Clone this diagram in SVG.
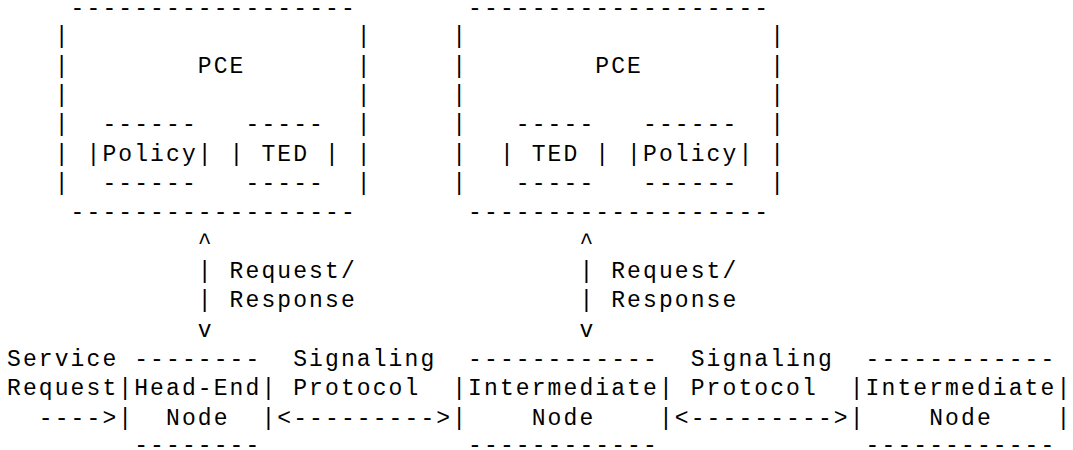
<svg xmlns="http://www.w3.org/2000/svg" width="1073" height="450" viewBox="0 0 1073 450">
<style>
text{font-family:"Courier New","Liberation Mono",monospace;font-size:23px;letter-spacing:2.1px;fill:#000;white-space:pre}
</style>
<rect x="0" y="0" width="1073" height="450" fill="#fff"/>
<g id="pce-left">
<text x="70.6" y="15">------------------</text>
<text x="54.7" y="43.33">|</text><text x="356.8" y="43.33">|</text>
<text x="54.7" y="72.67">|</text><text x="197.8" y="72.67">PCE</text><text x="356.8" y="72.67">|</text>
<text x="54.7" y="102">|</text><text x="356.8" y="102">|</text>
<text x="54.7" y="131.33">|</text><text x="356.8" y="131.33">|</text>
<text x="54.7" y="160.67">|</text><text x="356.8" y="160.67">|</text>
<text x="54.7" y="190">|</text><text x="356.8" y="190">|</text>
<text x="70.6" y="219.33">------------------</text>
<g id="policy-left">
<text x="102.4" y="131.33">------</text>
<text x="86.5" y="160.67">|Policy|</text>
<text x="102.4" y="190">------</text>
</g>
<g id="ted-left">
<text x="245.5" y="131.33">-----</text>
<text x="229.6" y="160.67">| TED |</text>
<text x="245.5" y="190">-----</text>
</g>
</g>
<g id="pce-right">
<text x="468.1" y="15">-------------------</text>
<text x="452.2" y="43.33">|</text><text x="770.2" y="43.33">|</text>
<text x="452.2" y="72.67">|</text><text x="595.3" y="72.67">PCE</text><text x="770.2" y="72.67">|</text>
<text x="452.2" y="102">|</text><text x="770.2" y="102">|</text>
<text x="452.2" y="131.33">|</text><text x="770.2" y="131.33">|</text>
<text x="452.2" y="160.67">|</text><text x="770.2" y="160.67">|</text>
<text x="452.2" y="190">|</text><text x="770.2" y="190">|</text>
<text x="468.1" y="219.33">-------------------</text>
<g id="ted-right">
<text x="515.8" y="131.33">-----</text>
<text x="499.9" y="160.67">| TED |</text>
<text x="515.8" y="190">-----</text>
</g>
<g id="policy-right">
<text x="643" y="131.33">------</text>
<text x="627.1" y="160.67">|Policy|</text>
<text x="643" y="190">------</text>
</g>
</g>
<g id="head-end-node">
<text x="134.2" y="366">--------</text>
<text x="118.3" y="395.33">|Head-End|</text>
<text x="118.3" y="424.67">|  Node  |</text>
<text x="134.2" y="452">--------</text>
</g>
<g id="intermediate-node-1">
<text x="468.1" y="366">------------</text>
<text x="452.2" y="395.33">|Intermediate|</text>
<text x="452.2" y="424.67">|    Node    |</text>
<text x="468.1" y="452">------------</text>
</g>
<g id="intermediate-node-2">
<text x="865.6" y="366">------------</text>
<text x="849.7" y="395.33">|Intermediate|</text>
<text x="849.7" y="424.67">|    Node    |</text>
<text x="865.6" y="452">------------</text>
</g>
<g id="connectors">
<text x="197.8" y="248.67">^</text>
<text x="197.8" y="278">| Request/</text>
<text x="197.8" y="307.33">| Response</text>
<text x="197.8" y="336.67">v</text>
<text x="579.4" y="248.67">^</text>
<text x="579.4" y="278">| Request/</text>
<text x="579.4" y="307.33">| Response</text>
<text x="579.4" y="336.67">v</text>
<text x="7" y="366">Service</text>
<text x="7" y="395.33">Request</text>
<text x="38.8" y="424.67">----&gt;</text>
<text x="293.2" y="366">Signaling</text>
<text x="293.2" y="395.33">Protocol</text>
<text x="277.3" y="424.67">&lt;---------&gt;</text>
<text x="690.7" y="366">Signaling</text>
<text x="690.7" y="395.33">Protocol</text>
<text x="674.8" y="424.67">&lt;---------&gt;</text>
</g>
</svg>
